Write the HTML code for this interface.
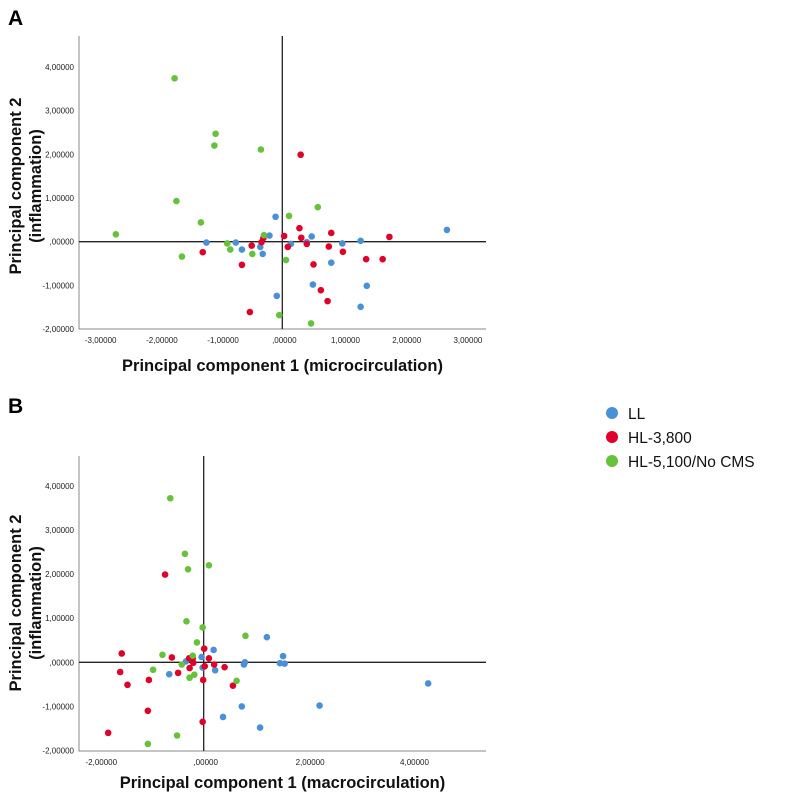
<!DOCTYPE html>
<html><head><meta charset="utf-8"><style>
body{margin:0;background:#fff;font-family:"Liberation Sans",Arial,sans-serif}
svg{display:block}
</style></head><body>
<svg id="c" width="787" height="799" xmlns="http://www.w3.org/2000/svg">
<text x="8" y="25" font-size="21" font-weight="bold">A</text>
<text x="8" y="413" font-size="21" font-weight="bold">B</text>
<g id="legend"></g>
</svg>
<script>
const groupNames=["LL","HL-3,800","HL-5,100/No CMS"];
const groupColors=["#4a90d9","#e0002a","#66c23a"];
// Panel A data
const aLLx=[-1.24,-0.76,-0.66,-0.36,-0.32,-0.21,-0.11,0.14,0.40,0.48,0.98,1.28,2.69,0.80,0.50,1.38,1.28,-0.09];
const aLLy=[-0.02,-0.02,-0.18,-0.12,-0.28,0.14,0.57,-0.05,-0.01,0.12,-0.04,0.02,0.27,-0.48,-0.98,-1.01,-1.49,-1.24];
const aHLx=[-1.30,-0.66,-0.50,-0.34,-0.31,-0.53,0.03,0.09,0.30,0.28,0.31,0.40,0.80,0.76,0.99,0.51,0.63,0.74,1.37,1.64,1.75];
const aHLy=[-0.24,-0.53,-0.09,-0.01,0.08,-1.61,0.13,-0.12,1.99,0.31,0.09,-0.05,0.20,-0.11,-0.23,-0.52,-1.11,-1.36,-0.40,-0.40,0.11];
const aCMx=[-1.76,-1.09,-1.11,-0.35,-1.73,-1.33,-2.72,-1.64,-0.90,-0.85,-0.49,-0.30,0.11,0.58,0.06,-0.05,0.47];
const aCMy=[3.74,2.47,2.20,2.11,0.93,0.44,0.17,-0.34,-0.04,-0.18,-0.28,0.15,0.59,0.79,-0.42,-1.68,-1.87];
// Panel B data
const bLLx=[-0.66,-0.34,-0.04,-0.02,0.19,0.22,0.77,0.79,1.21,1.46,1.52,1.55,4.30,2.22,0.73,0.37,1.08];
const bLLy=[-0.27,0.02,0.12,-0.12,0.28,-0.18,-0.05,0.00,0.57,-0.02,0.14,-0.03,-0.48,-0.98,-1.00,-1.24,-1.48];
const bHLx=[-1.57,-1.60,-1.46,-1.05,-1.07,-1.83,-0.74,-0.61,-0.49,-0.28,-0.27,-0.21,-0.20,0.01,0.02,0.10,0.20,0.40,-0.01,0.56,-0.02];
const bHLy=[0.20,-0.22,-0.51,-0.40,-1.10,-1.60,1.99,0.11,-0.24,0.09,-0.13,0.09,-0.01,0.31,-0.09,0.09,-0.05,-0.11,-0.40,-0.53,-1.35];
const bCMx=[-0.64,-0.36,-0.30,0.10,-0.33,-0.02,0.80,-0.13,-0.79,-0.21,-0.42,-0.97,-0.27,-0.18,0.63,-0.51,-1.07];
const bCMy=[3.72,2.46,2.11,2.20,0.93,0.79,0.60,0.45,0.17,0.15,-0.05,-0.17,-0.35,-0.28,-0.42,-1.66,-1.85];
const aXTicks=[-3,-2,-1,0,1,2,3];
const bXTicks=[-2,0,2,4];
const yTicks=[-2,-1,0,1,2,3,4];

const svg=document.getElementById('c');
const NS="http://www.w3.org/2000/svg";
function mk(tag,attrs,parent){const e=document.createElementNS(NS,tag);for(const k in attrs)e.setAttribute(k,attrs[k]);(parent||svg).appendChild(e);return e;}
function fmt(v){let s=Math.abs(v).toFixed(5).replace('.',',');if(Math.abs(v)<1e-9)s=s.replace(/^0/,'');return (v<0?'-':'')+s;}

function panel(id,left,right,top,bottom,x0,xs,y0,ys,xTicks,series,xTitle,yTitleCy,xTitleY){
  const g=mk('g',{});
  
  
  const X=v=>x0+v*xs, Y=v=>y0-v*ys;
  const fr=mk('path',{d:`M${left},${top}V${bottom}H${right}`,fill:'none',stroke:'#888','stroke-width':1},g);
  
  
  const hl=mk('line',{x1:left,x2:right,y1:Y(0),y2:Y(0),stroke:'#222','stroke-width':1.3},g);
  
  
  const vl=mk('line',{x1:X(0),x2:X(0),y1:top,y2:bottom,stroke:'#222','stroke-width':1.3},g);
  
  
  yTicks.forEach(t=>{const e=mk('text',{x:left-5,y:Y(t)+3,'font-size':8,'text-anchor':'end',fill:'#222'},g);e.textContent=fmt(t);
    
    });
  xTicks.forEach(t=>{const e=mk('text',{x:X(t)+2,y:bottom+14,'font-size':8,'text-anchor':'middle',fill:'#222'},g);e.textContent=fmt(t);
    
    });
  series.forEach((s,si)=>{s[0].forEach((xv,i)=>{const c=mk('circle',{cx:X(xv),cy:Y(s[1][i]),r:3.3,fill:groupColors[si]},g);
    
    });});
  const xt=mk('text',{x:(left+right)/2,y:xTitleY,'font-size':16.5,'font-weight':'bold','text-anchor':'middle',fill:'#111'},g);xt.textContent=xTitle;
  
  
  const yt=mk('text',{transform:`translate(21,${yTitleCy}) rotate(-90)`,'font-size':16.5,'font-weight':'bold','text-anchor':'middle',fill:'#111'},g);
  
  
  const t1=mk('tspan',{x:0,y:0},yt);t1.textContent='Principal component 2';
  const t2=mk('tspan',{x:0,y:20},yt);t2.textContent='(inflammation)';
}
panel('panel-a',79,486,36,329,282.3,61.2,241.7,43.7,aXTicks,[[aLLx,aLLy],[aHLx,aHLy],[aCMx,aCMy]],'Principal component 1 (microcirculation)',186,371);
panel('panel-b',79,486,456,751,203.7,52.2,662.3,44.1,bXTicks,[[bLLx,bLLy],[bHLx,bHLy],[bCMx,bCMy]],'Principal component 1 (macrocirculation)',603,788);

const lg=document.getElementById('legend');
groupNames.forEach((n,i)=>{
  const c=mk('circle',{cx:612,cy:413+i*24,r:6,fill:groupColors[i]},lg);
  
  
  const t=mk('text',{x:628,y:419+i*24,'font-size':15.5,fill:'#111'},lg);t.textContent=n;
  
  
});
</script>
</body></html>
